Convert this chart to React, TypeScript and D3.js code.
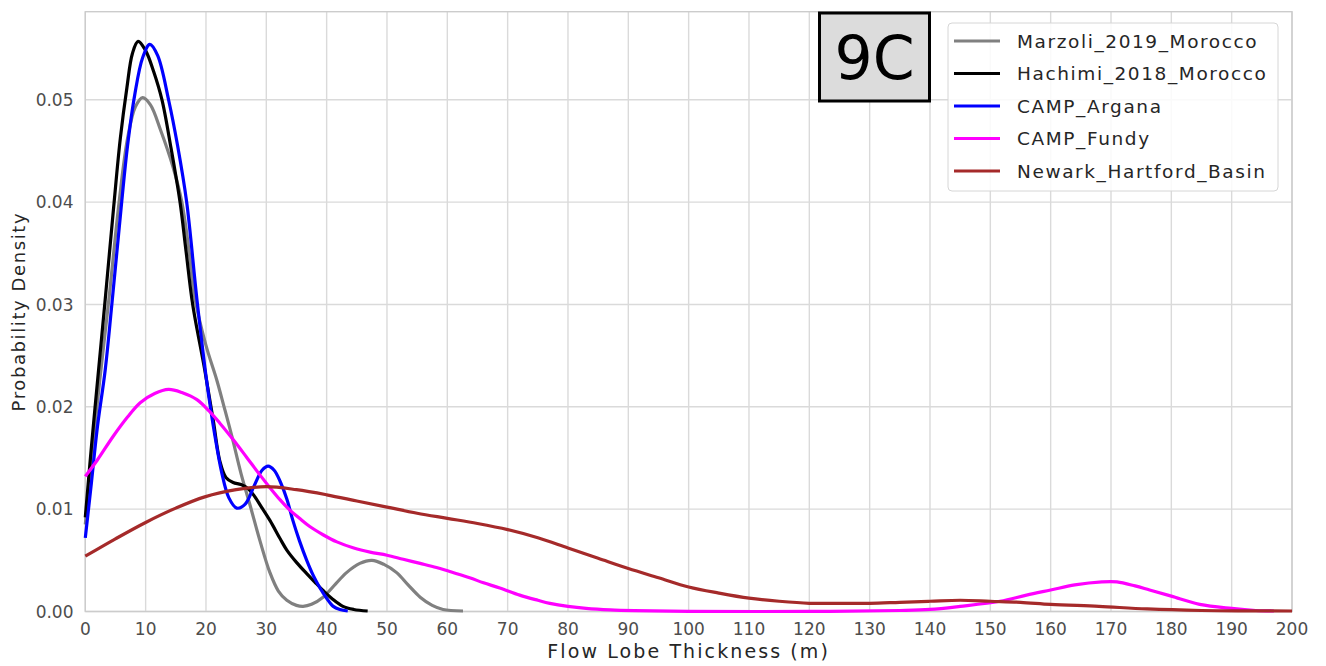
import React from "react";
import * as d3 from "d3";

// Kernel density estimates of flow lobe thickness (m) for each locality
const marzoliX = [0, 1, 2.4, 4, 5.6, 7, 8.3, 9.5, 10.8, 12.5, 14.5, 16, 17.2, 18.2, 20, 21.8, 23, 24.3, 25.8, 27.3, 29, 30.6, 32, 33.4, 35, 36.1, 37.5, 39.4, 41.5, 43.3, 45.5, 47.5, 49.5, 51.6, 53.5, 55.5, 57.5, 59.3, 62.6];
const marzoliY = [0.0085, 0.0145, 0.0226, 0.031, 0.04, 0.0462, 0.0493, 0.0502, 0.0495, 0.047, 0.0435, 0.04, 0.0352, 0.0305, 0.026, 0.0226, 0.02, 0.0171, 0.0135, 0.0104, 0.0068, 0.0038, 0.002, 0.0011, 0.0006, 0.0005, 0.0007, 0.0014, 0.0027, 0.0038, 0.0047, 0.005, 0.0046, 0.0038, 0.0026, 0.0014, 0.0006, 0.0002, 0.00005];

const hachimiX = [0, 1, 2.2, 3.3, 4.7, 5.8, 6.9, 7.8, 8.75, 10, 11.3, 12.7, 14.2, 15.7, 16.7, 17.8, 19.8, 21.2, 22.3, 23.3, 24.5, 25.8, 27, 28, 29.2, 30.6, 32.3, 33.4, 35, 36.7, 38, 39.5, 41, 42.7, 44.5, 46.8];
const hachimiY = [0.0092, 0.016, 0.0236, 0.0305, 0.0395, 0.0462, 0.0512, 0.0545, 0.0557, 0.0548, 0.0528, 0.05, 0.0453, 0.04, 0.0352, 0.03, 0.0236, 0.0187, 0.0147, 0.0131, 0.0126, 0.0124, 0.012, 0.0113, 0.0102, 0.0089, 0.0071, 0.006, 0.0048, 0.0037, 0.0029, 0.002, 0.0012, 0.0005, 0.0002, 0.00005];

const arganaX = [0, 1, 2, 3.3, 4.4, 6, 7, 8.2, 9.5, 10.7, 12, 13.8, 15.3, 16.8, 18.5, 20.1, 21.5, 22.6, 23.8, 25.1, 26.5, 28, 29.3, 30.3, 31.3, 32.3, 33.4, 34.4, 35.5, 36.7, 37.8, 38.9, 40, 41.1, 42.2, 43.5];
const arganaY = [0.0072, 0.0125, 0.018, 0.0236, 0.03, 0.0398, 0.0455, 0.0505, 0.0541, 0.0554, 0.0543, 0.05, 0.0455, 0.04, 0.0305, 0.0226, 0.0171, 0.0136, 0.0111, 0.0101, 0.0105, 0.0123, 0.0138, 0.0142, 0.0138, 0.0127, 0.011, 0.0089, 0.0069, 0.005, 0.0035, 0.0023, 0.0013, 0.0005, 0.0002, 0.00005];

const fundyX = [0, 2, 4.6, 7, 9.1, 11.5, 13.8, 16, 18.5, 20.5, 22.3, 24.5, 26.7, 29, 30.6, 32.3, 33.9, 35.5, 37.2, 39.4, 41.7, 44.5, 47.2, 50, 52.7, 55.5, 58.2, 60.4, 63.7, 66, 68.7, 72, 75, 77, 80, 83, 87, 91, 100, 120, 135, 140, 145, 151.6, 156, 160, 164, 168.5, 171, 174, 176.4, 180, 184.7, 190, 194, 197];
const fundyY = [0.0132, 0.0148, 0.0171, 0.019, 0.0204, 0.0213, 0.0217, 0.0214, 0.0207, 0.0196, 0.0184, 0.0168, 0.0151, 0.0133, 0.0121, 0.0109, 0.0099, 0.0091, 0.0083, 0.0075, 0.0068, 0.0062, 0.0058, 0.0055, 0.0051, 0.0047, 0.0043, 0.0039, 0.0033, 0.0028, 0.0023, 0.0016, 0.0011, 0.0008, 0.0005, 0.0003, 0.00015, 0.00008, 0.00002, 0.00001, 0.0001, 0.0002, 0.0005, 0.001, 0.0016, 0.0021, 0.0026, 0.0029, 0.0029, 0.0025, 0.0021, 0.0015, 0.0007, 0.0003, 0.0001, 0.00005];

const newarkX = [0, 5, 10, 15, 19.8, 25, 30, 35, 40, 45, 50, 55, 60, 65, 70, 75, 80, 85, 90, 95, 100, 105, 110, 115, 120, 125, 130, 135, 140, 145, 150, 155, 160, 168, 176, 185, 192, 200];
const newarkY = [0.0054, 0.0071, 0.0087, 0.0101, 0.0112, 0.0119, 0.0122, 0.0119, 0.0114, 0.0108, 0.0102, 0.0096, 0.0091, 0.0086, 0.008, 0.0072, 0.0062, 0.0052, 0.0042, 0.0033, 0.0024, 0.0018, 0.0013, 0.001, 0.0008, 0.0008, 0.0008, 0.0009, 0.001, 0.0011, 0.001, 0.0009, 0.0007, 0.0005, 0.00025, 0.0001, 0.00006, 0.00005];

const seriesNames = ["Marzoli_2019_Morocco", "Hachimi_2018_Morocco", "CAMP_Argana", "CAMP_Fundy", "Newark_Hartford_Basin"];
const seriesColors = ["#808080", "#000000", "#0000ff", "#ff00ff", "#a52a2a"];
const seriesXs = [marzoliX, hachimiX, arganaX, fundyX, newarkX];
const seriesYs = [marzoliY, hachimiY, arganaY, fundyY, newarkY];

const xTicks = d3.range(0, 201, 10);
const yTicks = [0, 0.01, 0.02, 0.03, 0.04, 0.05];
const panelLabel = "9C";
const xTitle = "Flow Lobe Thickness (m)";
const yTitle = "Probability Density";

const W = 1326;
const H = 666;
const FONT = "'DejaVu Sans', sans-serif";

export default function App() {
  const x = d3.scaleLinear().domain([0, 200]).range([85.3, 1292]);
  const y = d3.scaleLinear().domain([0, 0.0586]).range([611.5, 11.7]);
  const [x0, x1] = x.range();
  const [y0, y1] = y.range();

  const line = d3
    .line<[number, number]>()
    .x((d) => x(d[0]))
    .y((d) => Math.min(y0, y(d[1])))
    .curve(d3.curveCatmullRom.alpha(0.5));

  const gridColor = "#dadada";
  const tickColor = "#4d4d4d";

  const legendX = 948;
  const legendY = 23;
  const legendW = 330;
  const legendH = 168;
  const rowGap = 32.5;

  return (
    <div style={{ position: "fixed", left: 0, top: 0 }}>
      <svg width={W} height={H} style={{ display: "block", background: "#fff" }}>
        {/* grid */}
        {xTicks.map((t) => (
          <line key={"gx" + t} x1={x(t)} x2={x(t)} y1={y0} y2={y1} stroke={gridColor} strokeWidth={1.4} />
        ))}
        {yTicks.map((t) => (
          <line key={"gy" + t} x1={x0} x2={x1} y1={y(t)} y2={y(t)} stroke={gridColor} strokeWidth={1.4} />
        ))}
        <rect x={x0} y={y1} width={x1 - x0} height={y0 - y1} fill="none" stroke="#cccccc" strokeWidth={1.4} />

        {/* density curves */}
        {seriesNames.map((name, i) => {
          const pts = seriesXs[i].map((v, j) => [v, seriesYs[i][j]] as [number, number]);
          return (
            <path key={name} d={line(pts) || ""} fill="none" stroke={seriesColors[i]} strokeWidth={3.2} strokeLinejoin="round" strokeLinecap="butt" />
          );
        })}

        {/* tick labels */}
        {xTicks.map((t) => (
          <text key={"tx" + t} x={x(t)} y={635} textAnchor="middle" fontFamily={FONT} fontSize={17} fill={tickColor}>
            {t}
          </text>
        ))}
        {yTicks.map((t) => (
          <text key={"ty" + t} x={73.5} y={y(t)} dy="0.36em" textAnchor="end" fontFamily={FONT} fontSize={17} fill={tickColor}>
            {d3.format(".2f")(t)}
          </text>
        ))}

        {/* axis titles */}
        <text x={(x0 + x1) / 2} y={658} textAnchor="middle" fontFamily={FONT} fontSize={19} letterSpacing={2.1} fill="#262626">
          {xTitle}
        </text>
        <text transform={`translate(25,${(y0 + y1) / 2}) rotate(-90)`} textAnchor="middle" fontFamily={FONT} fontSize={18} letterSpacing={1.6} fill="#262626">
          {yTitle}
        </text>

        {/* panel label */}
        <rect x={819.5} y={13} width={110} height={88} fill="#dcdcdc" stroke="#000" strokeWidth={3} />
        <text x={874.5} y={57} dy="0.36em" textAnchor="middle" fontFamily={FONT} fontSize={60} fill="#000">
          {panelLabel}
        </text>

        {/* legend */}
        <rect x={legendX} y={legendY} width={legendW} height={legendH} rx={4} fill="#fff" fillOpacity={0.85} stroke="#d6d6d6" strokeWidth={1} />
        {seriesNames.map((name, i) => {
          const cy = 41 + i * rowGap;
          return (
            <g key={"lg" + name}>
              <line x1={954} x2={1000} y1={cy} y2={cy} stroke={seriesColors[i]} strokeWidth={3} />
              <text x={1017} y={cy} dy="0.36em" fontFamily={FONT} fontSize={18.5} letterSpacing={1.6} fill="#262626">
                {name}
              </text>
            </g>
          );
        })}
      </svg>
    </div>
  );
}
